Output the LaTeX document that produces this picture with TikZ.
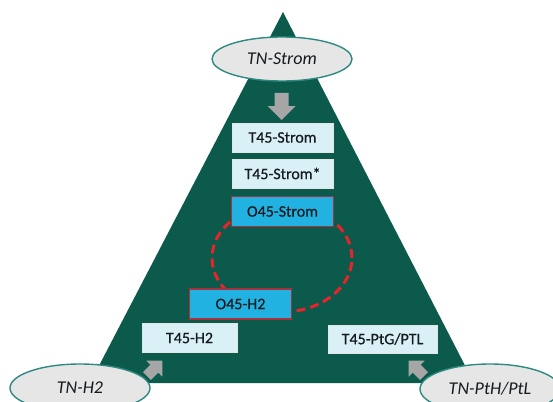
\documentclass[tikz,border=0pt]{standalone}
\usepackage{fontspec}
\setmainfont{Carlito}
\newfontfamily\boxfont{Carlito}[FakeBold=0.5]
\usetikzlibrary{shapes.geometric}
\definecolor{tri}{HTML}{0B5A4C}
\definecolor{lightbox}{HTML}{DAF0F7}
\definecolor{obox}{HTML}{22B2E2}
\definecolor{oborder}{HTML}{A8323C}
\definecolor{ellfill}{HTML}{E6E6E6}
\definecolor{ellborder}{HTML}{2E8A80}
\definecolor{arrgray}{HTML}{A6A6A6}
\definecolor{loopred}{HTML}{E8232A}
\definecolor{txt}{HTML}{141A1E}
\tikzset{
  tbox/.style={draw=white!80!gray, line width=0.6pt, fill=lightbox, minimum width=101pt, minimum height=29pt, inner sep=0pt, text=txt, font=\boxfont\fontsize{16}{18}\selectfont},
  obx/.style={draw=oborder, line width=1.3pt, fill=obox, minimum width=102pt, minimum height=30pt, inner sep=0pt, text=txt, font=\boxfont\fontsize{16}{18}\selectfont},
  tnell/.style={ellipse, draw=ellborder, line width=1.4pt, fill=ellfill, minimum width=140pt, minimum height=44pt, inner sep=0pt, text=txt, font=\fontsize{18}{20}\selectfont\itshape},
  blockarrow/.pic={\fill[arrgray] (-7,0) -- (7,0) -- (7,13) -- (14,13) -- (0,27) -- (-14,13) -- (-7,13) -- cycle;}
}
\begin{document}
\begin{tikzpicture}[x=1pt,y=-1pt]
\useasboundingbox (0,0) rectangle (553,401);
\fill[white] (0,0) rectangle (553,401);
\clip (0,0) rectangle (553,401);
\fill[tri] (283,12) -- (474,383) -- (90,383) -- cycle;
\draw[loopred, line width=3pt, dash pattern=on 9pt off 5pt] (282,258) ellipse [x radius=70pt, y radius=54pt];
\node[tnell] (tnstrom) at (282,59) {TN-Strom};
\node[tnell, minimum height=48pt] (tnh2) at (80,388) {TN-H2};
\node[tnell, minimum height=50pt] (tnpth) at (490,389) {TN-PtH/PtL};
\node[tbox] (t45strom) at (282.5,137.5) {T45-Strom};
\node[tbox] (t45stromstar) at (282.5,173.5) {T45-Strom*};
\node[obx] (o45strom) at (282.5,211.5) {O45-Strom};
\node[obx] (o45h2) at (240.5,304) {O45-H2};
\node[tbox, minimum width=95pt] (t45h2) at (189.5,338) {T45-H2};
\node[tbox, minimum width=109pt, minimum height=28pt] (t45ptg) at (382.5,339) {T45-PtG/PTL};
\pic at (281.5,93) {blockarrow};
\pic[rotate=135, scale=0.8] at (147,376) {blockarrow};
\pic[rotate=-135, scale=0.8] at (424,376) {blockarrow};
\end{tikzpicture}
\end{document}
